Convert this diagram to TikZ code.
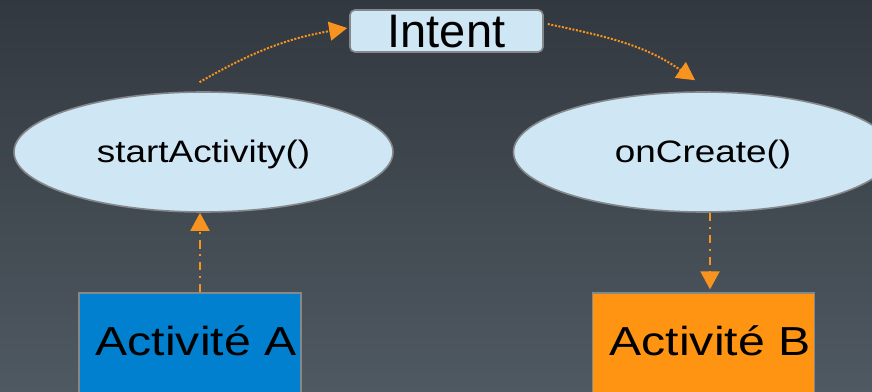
\documentclass[tikz,border=0pt]{standalone}
\usepackage{fontspec}
\setmainfont{Liberation Sans}
\usetikzlibrary{arrows.meta,shapes.geometric}
\definecolor{bgtop}{HTML}{32383F}
\definecolor{bgbot}{HTML}{4F5961}
\definecolor{paleblue}{HTML}{CFE6F5}
\definecolor{edgegray}{HTML}{85888A}
\definecolor{actblue}{HTML}{0080CF}
\definecolor{actorange}{HTML}{FF9412}
\definecolor{arrowor}{HTML}{F7931E}
\tikzset{
  x=1pt, y=1pt,
  method/.style={ellipse, draw=edgegray, line width=1.6pt, fill=paleblue,
    minimum width=379pt, minimum height=120pt, inner sep=0pt,
    text height=22pt, text depth=0pt, font=\fontsize{31}{36}\selectfont},
  intentbox/.style={rectangle, rounded corners=5pt, draw=edgegray, line width=1.6pt,
    fill=paleblue, minimum width=193pt, minimum height=42pt, inner sep=0pt,
    text height=34pt, text depth=0pt, font=\fontsize{47}{54}\selectfont},
  actbox/.style={rectangle, draw=edgegray, line width=1.2pt,
    minimum width=222pt, minimum height=103pt, inner sep=0pt},
  acttext/.style={inner sep=0pt, text height=29pt, text depth=0pt,
    font=\fontsize{40.5}{46}\selectfont},
  dotarrow/.style={draw=arrowor, line width=2pt, dash pattern=on 2pt off 1.6pt,
    -{Triangle[length=18pt,width=19pt]}},
  dasharrow/.style={draw=arrowor, line width=1.9pt,
    dash pattern=on 8.5pt off 5.7pt on 2pt off 5.7pt,
    -{Triangle[length=18pt,width=19pt]}},
}
\begin{document}
\begin{tikzpicture}
\useasboundingbox (0,0) rectangle (872,391);
\clip (0,0) rectangle (872,391);
\shade[top color=bgtop, bottom color=bgbot] (0,0) rectangle (872,391);

\node[intentbox] (I) at (446.5,360) {Intent};
\node[method] (e1) at (203.5,239) {\scalebox{1.19}[1]{startActivity()}};
\node[method] (e2) at (703,239) {\scalebox{1.19}[1]{onCreate()}};

\node[actbox, fill=actblue] (A) at (190,46.5) {};
\node[actbox, fill=actorange] (B) at (703.5,46.5) {};
\node[acttext] (At) at (196,50.5) {\scalebox{1.19}[1]{Activité A}};
\node[acttext] (Bt) at (710,50.5) {\scalebox{1.19}[1]{Activité B}};

\draw[dotarrow] ([xshift=-4pt,yshift=9pt]e1.north) to[out=30,in=190] ([xshift=-2pt,yshift=3pt]I.west);
\draw[dotarrow] ([xshift=4pt,yshift=7pt]I.east) to[out=-12,in=145] ([xshift=-8pt,yshift=11pt]e2.north);

\coordinate (Atop) at ([xshift=10pt]A.north);
\coordinate (Btop) at ([xshift=6.5pt]B.north);
\draw[dasharrow] (Atop) -- (Atop |- e1.south);
\draw[dasharrow] (Btop |- e2.south) -- ([yshift=3pt]Btop);
\end{tikzpicture}
\end{document}
